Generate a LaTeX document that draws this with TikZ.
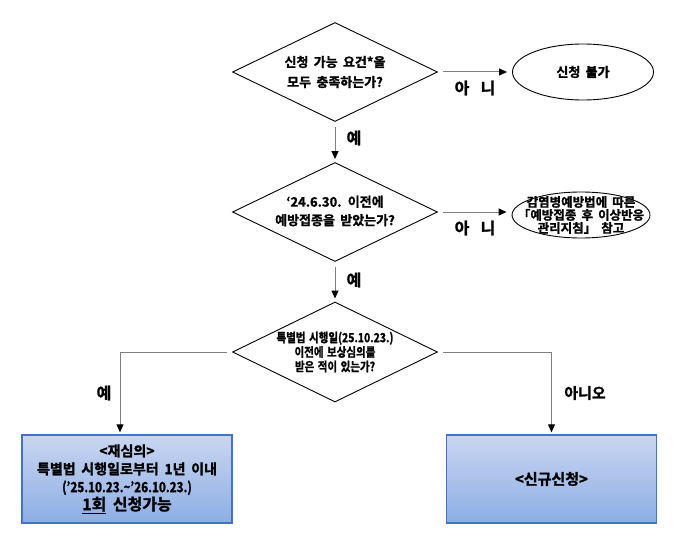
\documentclass[tikz,border=0pt]{standalone}
\usepackage{fontspec}
\setmainfont{Noto Sans CJK KR}[BoldFont={* Bold}, WordSpace=1.8, BoldFeatures={FakeBold=1.4}]
\newfontfamily\narrowkr{Noto Sans CJK KR}[FakeStretch=0.84, BoldFont={* Bold}, WordSpace=1.5, BoldFeatures={FakeBold=1.4}]
\usetikzlibrary{shapes.geometric,arrows.meta}
\definecolor{linegray}{HTML}{7F7F7F}
\definecolor{boxedge}{HTML}{4472C4}
\definecolor{boxtop}{HTML}{C9D6F1}
\definecolor{boxbot}{HTML}{8DAEE4}
\tikzset{
  dia/.style={diamond, draw=black, line width=0.9pt, inner sep=0pt,
    minimum width=205pt, minimum height=99pt},
  diatext/.style={align=center, inner sep=0pt, font=\bfseries\fontsize{13}{20}\selectfont},
  ell/.style={ellipse, draw=black, line width=0.9pt, inner sep=0pt},
  res/.style={rectangle, draw=boxedge, line width=1.3pt, top color=boxtop, bottom color=boxbot,
    minimum width=210pt, minimum height=88pt, align=center, inner sep=0pt},
  conn/.style={draw=linegray, line width=1pt, -{Triangle[length=8pt,width=7pt,color=black]}},
  lab/.style={font=\bfseries\fontsize{16}{16}\selectfont, inner sep=0pt}
}
\begin{document}
\begin{tikzpicture}[x=1pt,y=1pt]
\useasboundingbox (0,0) rectangle (700,-548);
% decisions
\node[dia] (d1) at (335,-72) {};
\node[diatext] (t1) at (d1.center) {신청 가능 요건*을\\모두 충족하는가?};
\node[dia] (d2) at (335,-212) {};
\node[diatext, font=\bfseries\fontsize{13}{18.5}\selectfont] (t2) at ([yshift=1pt]d2.center) {‘24.6.30. 이전에\\예방접종을 받았는가?};
\node[dia, minimum height=100pt] (d3) at (335,-352) {};
\node[diatext, font=\bfseries\fontsize{12.5}{14.5}\selectfont] (t3) at (d3.center)
  {{\narrowkr 특별법 시행일(25.10.23.)}\\{\narrowkr 이전에 보상심의를}\\{\narrowkr 받은 적이 있는가?}};
% ends
\node[ell, minimum width=141pt, minimum height=56pt] (e1) at (583,-72) {};
\node[diatext, font=\bfseries\fontsize{13}{16}\selectfont] (t4) at (e1.center) {신청 불가};
\node[ell, minimum width=138pt, minimum height=46pt] (e2) at (581,-215) {};
\node[diatext, font=\bfseries\fontsize{12.5}{13}\selectfont] (t5) at (e2.center)
  {감염병예방법에 따른\\「예방접종 후 이상반응\\관리지침」 참고};
\node[res, font=\bfseries\fontsize{14}{18}\selectfont] (b1) at (127,-479)
  {<재심의>\\특별법 시행일로부터 1년 이내\\{\narrowkr (’25.10.23.\symbol{"7E}’26.10.23.)}\\{\fontsize{16}{18}\selectfont\underline{1회} 신청가능}};
\node[res, font=\bfseries\fontsize{15}{18}\selectfont] (b2) at (551.5,-479) {<신규신청>};
% labels
\node[lab] (n1) at (475,-88) {아\hspace{0.7em}니};
\node[lab] (n2) at (475,-228) {아\hspace{0.7em}니};
\node[lab] (y1) at (354,-138) {예};
\node[lab] (y2) at (354,-280) {예};
\node[lab] (y3) at (104,-393) {예};
\node[lab, font=\bfseries\fontsize{15}{15}\selectfont] (n3) at (585,-393) {아니오};
% connectors
\coordinate (b1in) at ([xshift=-7pt]b1.north);
\coordinate (e2in) at (e2.west |- d2.east);
\draw[conn, shorten <=5pt, shorten >=5pt] (d1.east) -- (e1.west);
\draw[conn, shorten <=5pt, shorten >=5pt] (d2.east) -- (e2in);
\draw[conn, shorten <=5pt, shorten >=3pt] (d1.south) -- (d2.north);
\draw[conn, shorten <=5pt, shorten >=3pt] (d2.south) -- (d3.north);
\draw[conn, shorten <=5pt, shorten >=2pt] (d3.west) -| (b1in);
\draw[conn, shorten <=5pt, shorten >=2pt] (d3.east) -| (b2.north);
\end{tikzpicture}
\end{document}
